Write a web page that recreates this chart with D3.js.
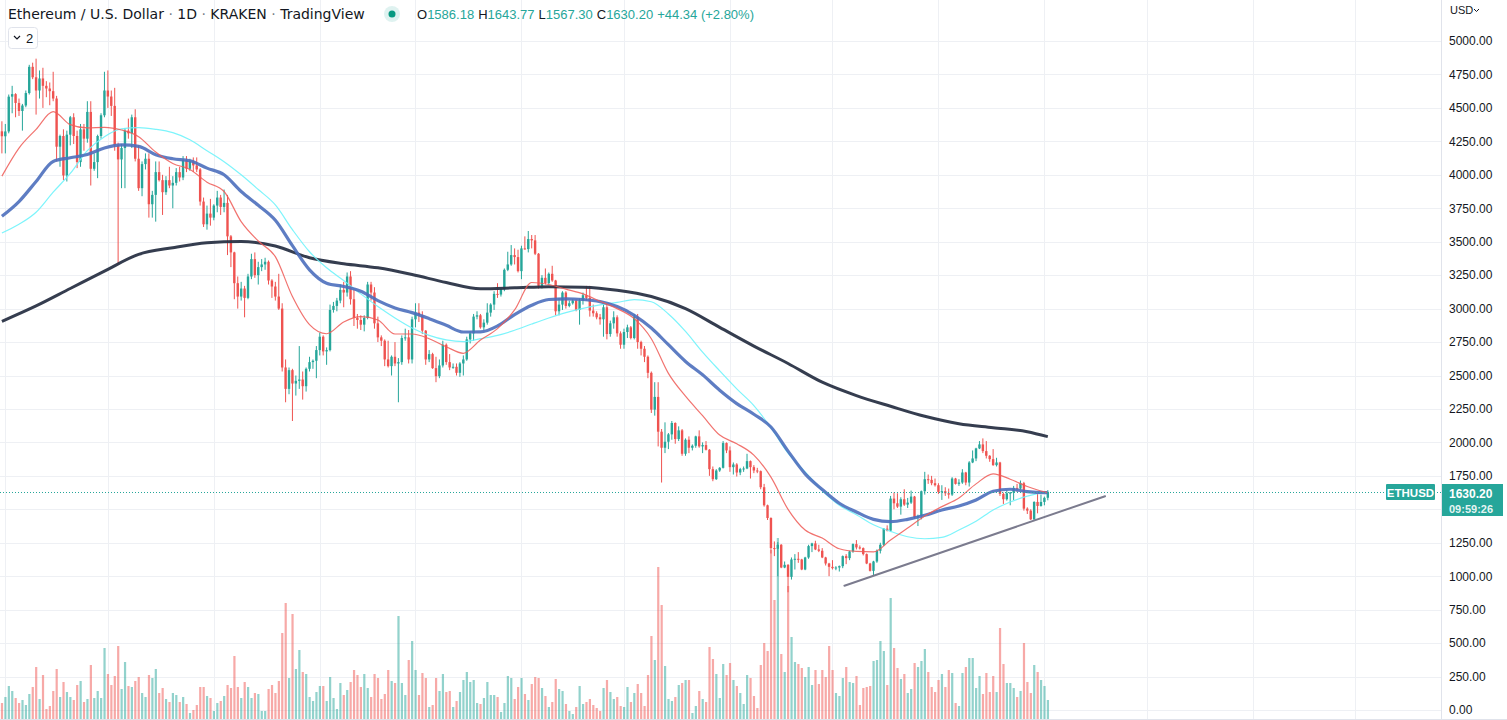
<!DOCTYPE html>
<html lang="en">
<head>
<meta charset="UTF-8">
<title>Ethereum / U.S. Dollar · 1D · KRAKEN</title>
<script src="https://cdn.jsdelivr.net/npm/d3@7/dist/d3.min.js"></script>
<style>
  html, body { margin: 0; padding: 0; background: #ffffff; }
  body { width: 1507px; height: 720px; overflow: hidden; }
  #chart text { font-family: "Liberation Sans", Arial, sans-serif; fill: #131722; }
</style>
</head>
<body>
<div id="chart"></div>
<script>
// daily bars, first bar = 2021-10-31
var firstDay = "2021-10-31";

var opens = [4325,4288,4324,4584,4603,4537,4477,4518,4611,4807,4729,4630,4720,4665,4645,4625,4570,4210,4290,3995,
4300,4430,4290,4095,4340,4270,4470,4045,4095,4290,4445,4630,4585,4515,4220,4115,4200,4330,4310,4430,
4120,3900,4080,4120,3780,3850,4020,3960,3870,3960,3920,3940,4020,3980,4110,4045,4100,4070,4040,3800,
3630,3710,3680,3770,3830,3760,3790,3540,3420,3190,3090,3150,3080,3240,3370,3250,3310,3330,3350,3210,
3165,3090,3000,2560,2400,2540,2440,2460,2470,2420,2550,2600,2610,2690,2790,2680,2690,2990,3020,3060,
3140,3120,3240,3070,2930,2915,2880,2930,3180,3120,2890,2785,2760,2620,2570,2640,2590,2600,2780,2785,
2620,2920,2970,2950,2835,2620,2660,2555,2495,2575,2730,2600,2560,2565,2520,2590,2620,2770,2815,2940,
2950,2860,2895,2970,3030,3110,3105,3145,3290,3330,3400,3385,3280,3450,3445,3520,3510,3410,3170,3230,
3190,3260,3210,2980,3030,3120,3020,3040,3060,2990,3060,3100,3080,2985,2965,2935,2920,3010,2810,2890,
2935,2815,2730,2825,2860,2780,2940,2750,2700,2640,2520,2245,2340,2080,1960,2005,2060,2145,2025,2090,
1915,2020,1960,1975,2045,1970,1980,1945,1800,1725,1790,1810,1995,1940,1815,1835,1775,1800,1805,1860,
1815,1790,1785,1665,1530,1435,1210,1205,1235,1065,1085,995,1125,1130,1125,1050,1140,1225,1245,1200,
1190,1140,1095,1070,1060,1065,1075,1150,1135,1185,1240,1215,1210,1165,1095,1040,1110,1190,1235,1355,
1340,1580,1545,1520,1575,1535,1550,1595,1440,1450,1635,1725,1720,1695,1680,1630,1635,1620,1610,1730,
1690,1700,1775,1700,1850,1880,1955,1985,1935,1900,1875,1830,1850,1615,1575,1620,1625,1660,1655,1695,
1505,1490,1425,1555,1525,1555,1586.18];

var highs = [4400,4380,4600,4665,4610,4570,4530,4630,4822,4838,4868,4780,4800,4700,4690,4770,4590,4300,4340,4330,
4440,4460,4330,4380,4380,4550,4550,4160,4300,4460,4770,4780,4630,4650,4240,4230,4350,4420,4450,4490,
4220,4100,4160,4160,3880,4100,4100,4000,3990,4060,3990,4050,4060,4140,4140,4120,4130,4130,4050,3830,
3770,3820,3780,3880,3850,3890,3850,3550,3425,3240,3200,3170,3260,3410,3420,3350,3370,3380,3360,3220,
3200,3260,3040,2620,2560,2550,2500,2720,2530,2560,2640,2620,2720,2820,2800,2710,3030,3050,3080,3180,
3200,3270,3280,3150,2960,2950,2950,3200,3200,3160,2940,2800,2770,2760,2650,2750,2630,2800,2850,2840,
2940,3040,3040,2980,2840,2690,2670,2640,2620,2760,2740,2660,2590,2590,2600,2650,2790,2830,2960,2980,
2960,2920,3040,3040,3130,3190,3150,3300,3425,3475,3450,3440,3470,3540,3580,3550,3550,3415,3250,3300,
3270,3320,3215,3080,3130,3130,3060,3070,3070,3075,3120,3170,3170,3030,2980,2960,3030,3040,2910,2980,
2950,2830,2850,2880,2870,2960,2960,2760,2720,2650,2530,2450,2450,2100,2150,2070,2160,2150,2120,2100,
2030,2045,1985,2050,2090,2000,2010,1950,1820,1800,1815,2010,2000,1970,1850,1845,1810,1820,1915,1865,
1830,1810,1790,1690,1535,1440,1260,1255,1240,1110,1090,1140,1165,1180,1130,1145,1235,1250,1265,1235,
1210,1145,1100,1120,1075,1080,1155,1165,1190,1245,1270,1230,1215,1170,1100,1115,1200,1250,1360,1380,
1600,1625,1620,1590,1650,1585,1640,1600,1460,1640,1780,1760,1750,1730,1695,1680,1665,1655,1740,1735,
1725,1800,1780,1860,1940,1960,2010,2030,2010,1905,1950,1885,1855,1625,1640,1630,1675,1690,1715,1705,
1515,1500,1560,1615,1610,1595,1643.77];

var lows = [4160,4160,4310,4460,4430,4440,4330,4505,4600,4715,4450,4570,4500,4580,4520,4550,4100,4060,3960,3950,
4220,4230,4050,4060,4180,4240,3920,4030,3975,4270,4430,4500,4440,4180,3330,3900,3900,4270,4200,4100,
3880,3840,4040,3680,3680,3650,3950,3700,3850,3900,3750,3920,3950,3960,4020,4030,4020,4020,3770,3610,
3590,3620,3660,3720,3700,3720,3400,3310,3070,3000,3060,2935,3070,3220,3230,3180,3280,3290,3180,3080,
3060,2990,2530,2300,2360,2160,2350,2400,2320,2380,2530,2550,2480,2650,2650,2580,2680,2970,2980,3040,
3010,3090,3030,2870,2850,2840,2830,2920,3060,2850,2750,2720,2570,2560,2500,2570,2300,2580,2760,2590,
2590,2860,2900,2810,2580,2600,2550,2450,2480,2560,2580,2540,2550,2500,2490,2500,2610,2740,2760,2920,
2850,2840,2880,2940,2990,3080,3090,3130,3280,3320,3330,3270,3220,3440,3420,3450,3400,3150,3150,3180,
3180,3200,2950,2950,2990,3000,3010,3030,2980,2880,3030,3060,2940,2940,2920,2880,2790,2770,2790,2850,
2790,2700,2700,2780,2770,2770,2700,2650,2600,2480,2220,2200,1970,1700,1920,1950,2020,1990,2010,1900,
1900,1920,1940,1960,1960,1920,1940,1750,1710,1720,1780,1805,1920,1780,1760,1745,1755,1780,1800,1730,
1770,1770,1650,1520,1420,1170,1150,1000,1060,1060,880,975,1050,1100,1045,1045,1130,1180,1195,1180,
1135,1080,1000,1050,1045,1035,1060,1090,1120,1175,1200,1200,1155,1090,1035,1005,1100,1170,1225,1335,
1335,1500,1510,1460,1525,1510,1540,1430,1375,1425,1610,1690,1680,1670,1615,1570,1600,1580,1600,1685,
1675,1690,1680,1670,1845,1860,1950,1920,1880,1855,1825,1820,1600,1540,1565,1530,1570,1630,1650,1490,
1465,1420,1420,1470,1520,1530,1567.30];

var closes = [4288,4324,4584,4603,4537,4477,4518,4611,4807,4729,4630,4720,4665,4645,4625,4570,4210,4290,3995,4300,
4430,4290,4095,4340,4270,4470,4045,4095,4290,4445,4630,4585,4515,4220,4115,4200,4330,4310,4430,4120,
3900,4080,4120,3780,3850,4020,3960,3870,3960,3920,3940,4020,3980,4110,4045,4100,4070,4040,3800,3630,
3710,3680,3770,3830,3760,3790,3540,3420,3190,3090,3150,3080,3240,3370,3250,3310,3330,3350,3210,3165,
3090,3000,2560,2400,2540,2440,2460,2470,2420,2550,2600,2610,2690,2790,2680,2690,2990,3020,3060,3140,
3120,3240,3070,2930,2915,2880,2930,3180,3120,2890,2785,2760,2620,2570,2640,2590,2600,2780,2785,2620,
2920,2970,2950,2835,2620,2660,2555,2495,2575,2730,2600,2560,2565,2520,2590,2620,2770,2815,2940,2950,
2860,2895,2970,3030,3110,3105,3145,3290,3330,3400,3385,3280,3450,3445,3520,3510,3410,3170,3230,3190,
3260,3210,2980,3030,3120,3020,3040,3060,2990,3060,3100,3080,2985,2965,2935,2920,3010,2810,2890,2935,
2815,2730,2825,2860,2780,2940,2750,2700,2640,2520,2245,2340,2080,1960,2005,2060,2145,2025,2090,1915,
2020,1960,1975,2045,1970,1980,1945,1800,1725,1790,1810,1995,1940,1815,1835,1775,1800,1805,1860,1815,
1790,1785,1665,1530,1435,1210,1205,1235,1065,1085,995,1125,1130,1125,1050,1140,1225,1245,1200,1190,
1140,1095,1070,1060,1065,1075,1150,1135,1185,1240,1215,1210,1165,1095,1040,1110,1190,1235,1355,1340,
1580,1545,1520,1575,1535,1550,1595,1440,1450,1635,1725,1720,1695,1680,1630,1635,1620,1610,1730,1690,
1700,1775,1700,1850,1880,1955,1985,1935,1900,1875,1830,1850,1615,1575,1620,1625,1660,1655,1695,1505,
1490,1425,1555,1525,1555,1585.86,1630.20];

// volume, thousand ETH
var volumes = [17,23,34,29,22,17,20,15,26,33,53,21,45,11,14,29,51,23,38,28,
23,20,35,39,18,21,55,22,29,22,72,46,35,44,74,31,58,34,33,39,
43,27,23,45,42,51,27,32,21,18,27,25,18,23,16,7,10,15,33,33,
24,22,9,17,19,24,35,32,64,33,22,38,33,22,27,26,9,9,31,35,
27,39,87,117,42,106,51,70,48,46,23,19,28,34,34,19,43,22,11,37,
25,30,38,50,45,33,46,32,23,46,42,21,26,50,39,37,104,37,25,60,
79,50,25,47,42,13,15,42,29,46,28,29,13,19,28,40,48,38,40,17,
16,22,38,25,25,23,8,17,44,42,21,33,42,26,20,36,43,42,32,24,
13,18,41,31,29,16,9,6,13,34,16,18,21,15,12,9,32,40,28,21,
23,14,13,33,18,27,36,27,14,45,84,60,153,115,54,21,19,23,35,37,
40,40,7,14,29,21,18,73,61,46,22,56,45,57,40,34,27,16,45,42,
24,12,55,77,69,170,120,182,66,48,134,83,58,56,52,43,53,35,50,36,
50,43,74,50,27,24,42,53,38,37,44,15,32,33,34,59,60,79,69,35,
122,72,52,41,46,27,31,57,53,59,71,48,33,28,40,46,33,50,47,17,
14,47,53,62,62,32,44,26,47,28,44,28,92,56,37,37,32,23,29,77,
38,27,55,48,40,34,20];

// moving averages, read every 5 bars (bar index in maIdx)
var maIdx  = [0,5,10,15,20,25,30,35,40,45,50,55,60,65,70,75,80,85,90,95,100,105,110,115,120,125,130,135,140,145,
150,155,160,165,170,175,180,185,190,195,200,205,210,215,220,225,230,235,240,245,250,255,260,265,270,275,280,285,290,295,300,305,306];
var maRed  = [3990,4200,4340,4472,4375,4350,4355,4335,4285,4170,4085,4040,3945,3875,3650,3505,3388,3090,2880,2812,2900,2940,2915,2810,2810,2775,2715,2666,2765,2850,
2990,3195,3180,3145,3110,3055,3000,2925,2775,2516,2345,2200,2055,1990,1905,1740,1500,1345,1285,1205,1185,1182,1270,1360,1450,1520,1585,1690,1765,1725,1670,1630,1625];
var maCyan = [3565,3630,3720,3870,4010,4180,4285,4343,4352,4340,4315,4262,4180,4098,4000,3890,3775,3590,3425,3305,3210,3110,3015,2930,2855,2800,2766,2753,2775,2800,
2838,2885,2930,2970,3002,3028,3046,3067,3051,2960,2830,2675,2535,2400,2275,2110,1920,1780,1640,1530,1460,1385,1335,1295,1280,1290,1345,1410,1495,1555,1598,1628,1632];
var maBlue = [3690,3800,3950,4100,4127,4152,4200,4223,4212,4150,4120,4105,4050,4000,3875,3772,3660,3470,3290,3190,3165,3130,3060,3005,2970,2925,2875,2825,2826,2870,
2955,3025,3068,3073,3068,3052,3015,2950,2855,2730,2605,2505,2390,2290,2210,2115,1935,1765,1648,1545,1480,1425,1408,1425,1455,1495,1525,1570,1635,1650,1632,1625,1625];
// 200-day average, read every 10 bars
var longIdx = [0,10,20,30,40,50,60,70,80,90,100,110,120,130,140,150,160,170,180,190,200,210,220,230,240,250,260,270,280,290,300,306];
var ma200   = [2905,3020,3150,3280,3405,3455,3492,3502,3468,3380,3335,3305,3255,3195,3148,3155,3164,3160,3137,3090,3000,2860,2720,2590,2450,2350,2270,2195,2140,2110,2080,2043];

// support line drawn on the chart
var trendDates  = ["2022-07-04T12:00Z", "2022-09-18T18:00Z"];
var trendPrices = [929, 1598];

var priceTicks = [0,250,500,750,1000,1250,1500,1750,2000,2250,2500,2750,3000,3250,3500,3750,4000,4250,4500,4750,5000];
var lastPrice = 1630.20;
var countdown = "09:59:26";

// ------------------------------------------------------------
var W = 1507, H = 720, plotRight = 1441;
var up = "#26a69a", down = "#ef5350";
var n = opens.length;

var svg = d3.select("#chart").append("svg").attr("width", W).attr("height", H);

var t0 = new Date(firstDay + "T00:00:00Z");
var dates = opens.map(function(d, i) { return d3.utcDay.offset(t0, i); });

var x = d3.scaleUtc()
  .domain([t0, d3.utcDay.offset(t0, 421)])
  .range([1.9, 1.9 + 421 * 3.418]);
var y = d3.scaleLinear().domain([0, 5000]).range([710, 41]);
var yVol = d3.scaleLinear().domain([0, 200]).range([720, 520]);

// grid
var grid = svg.append("g").attr("stroke", "#eef0f4").attr("stroke-width", 1);
grid.selectAll(".gy").data(priceTicks).join("line")
  .attr("x1", 0).attr("x2", plotRight)
  .attr("y1", function(d) { return Math.round(y(d)) + 0.5; })
  .attr("y2", function(d) { return Math.round(y(d)) + 0.5; });
grid.selectAll(".gx").data(d3.utcMonth.range(d3.utcMonth.ceil(t0), x.domain()[1])).join("line")
  .attr("x1", function(d) { return Math.round(x(d)) + 0.5; })
  .attr("x2", function(d) { return Math.round(x(d)) + 0.5; })
  .attr("y1", 0).attr("y2", 719);

var g = svg.append("g");

// volume
g.append("g").selectAll("rect").data(volumes).join("rect")
  .attr("x", function(d, i) { return x(dates[i]) - 1; })
  .attr("width", 2.2)
  .attr("y", function(d) { return yVol(d); })
  .attr("height", function(d) { return yVol(0) - yVol(d); })
  .attr("fill", function(d, i) { return closes[i] >= opens[i] ? up : down; })
  .attr("fill-opacity", 0.5);

// candles
var idx = d3.range(n);
var cg = g.append("g");
cg.selectAll(".wick").data(idx).join("rect")
  .attr("x", function(i) { return x(dates[i]) - 0.5; })
  .attr("width", 1)
  .attr("y", function(i) { return y(highs[i]); })
  .attr("height", function(i) { return y(lows[i]) - y(highs[i]); })
  .attr("fill", function(i) { return closes[i] >= opens[i] ? up : down; });
cg.selectAll(".body").data(idx).join("rect")
  .attr("x", function(i) { return x(dates[i]) - 1.2; })
  .attr("width", 2.4)
  .attr("y", function(i) { return y(Math.max(opens[i], closes[i])); })
  .attr("height", function(i) { return Math.max(1, Math.abs(y(opens[i]) - y(closes[i]))); })
  .attr("fill", function(i) { return closes[i] >= opens[i] ? up : down; });

// moving averages
function maLine(at, vals, color, width, op) {
  var line = d3.line()
    .x(function(d, k) { return x(dates[at[k]]); })
    .y(function(d) { return y(d); })
    .curve(d3.curveMonotoneX);
  g.append("path").datum(vals)
    .attr("d", line)
    .attr("fill", "none")
    .attr("stroke", color)
    .attr("stroke-width", width)
    .attr("stroke-opacity", op)
    .attr("stroke-linejoin", "round");
}
maLine(longIdx, ma200, "#2a3346", 3, 0.95);
maLine(maIdx, maCyan, "#6ff3fb", 1.2, 0.9);
maLine(maIdx, maBlue, "#4d6fbd", 3.2, 0.9);
maLine(maIdx, maRed, "#ee5a56", 1.2, 0.85);

// trend line
g.append("line")
  .attr("x1", x(new Date(trendDates[0]))).attr("y1", y(trendPrices[0]))
  .attr("x2", x(new Date(trendDates[1]))).attr("y2", y(trendPrices[1]))
  .attr("stroke", "#7b7b8e").attr("stroke-width", 2).attr("stroke-linecap", "round");

// last price dotted line
var yl = Math.round(y(lastPrice)) + 0.5;
svg.append("line")
  .attr("x1", 0).attr("x2", plotRight).attr("y1", yl).attr("y2", yl)
  .attr("stroke", up).attr("stroke-width", 1).attr("stroke-dasharray", "1,2");

// price axis
svg.append("rect").attr("x", plotRight).attr("y", 0).attr("width", W - plotRight).attr("height", H).attr("fill", "#fff");
svg.append("line").attr("x1", plotRight + 0.5).attr("x2", plotRight + 0.5).attr("y1", 0).attr("y2", H)
  .attr("stroke", "#e0e3eb");
svg.append("line").attr("x1", 0).attr("x2", W).attr("y1", 719.5).attr("y2", 719.5)
  .attr("stroke", "#e0e3eb");

var axis = svg.append("g")
  .attr("transform", "translate(" + plotRight + ",0)")
  .call(d3.axisRight(y).tickValues(priceTicks).tickFormat(d3.format(".2f")).tickSize(0).tickPadding(8));
axis.select(".domain").remove();
axis.selectAll("text").attr("font-size", 12).style("fill", "#131722")
  .style("font-family", "'Liberation Sans', Arial, sans-serif");

svg.append("text").attr("x", 1450).attr("y", 14).attr("font-size", 11).text("USD");
svg.append("path").attr("d", "M1474,9 l2.5,2.5 l2.5,-2.5").attr("fill", "none").attr("stroke", "#131722").attr("stroke-width", 1);

// last price labels
svg.append("rect").attr("x", 1386).attr("y", yl - 8.5).attr("width", 49).attr("height", 16).attr("rx", 1).attr("fill", up);
svg.append("text").attr("x", 1410.5).attr("y", yl + 4).attr("text-anchor", "middle")
  .attr("font-size", 11.5).attr("font-weight", "bold").style("fill", "#fff").text("ETHUSD");
svg.append("rect").attr("x", plotRight + 1).attr("y", yl - 8.5).attr("width", 61).attr("height", 32).attr("fill", up);
svg.append("text").attr("x", 1449).attr("y", yl + 5).attr("font-size", 12).attr("font-weight", "bold")
  .style("fill", "#fff").text(d3.format(".2f")(lastPrice));
svg.append("text").attr("x", 1449).attr("y", yl + 20).attr("font-size", 11).attr("font-weight", "bold")
  .style("fill", "#fff").style("fill-opacity", 0.9).text(countdown);

// legend header
var hdr = svg.append("text").attr("x", 8).attr("y", 19).attr("font-size", 14)
  .style("font-family", "'DejaVu Sans', sans-serif");
hdr.append("tspan").text("Ethereum / U.S. Dollar ");
hdr.append("tspan").style("fill", "#787b86").text("·");
hdr.append("tspan").text(" 1D ");
hdr.append("tspan").style("fill", "#787b86").text("·");
hdr.append("tspan").text(" KRAKEN ");
hdr.append("tspan").style("fill", "#787b86").text("·");
hdr.append("tspan").text(" TradingView");

svg.append("circle").attr("cx", 392).attr("cy", 14).attr("r", 8).attr("fill", up).attr("fill-opacity", 0.15);
svg.append("circle").attr("cx", 392).attr("cy", 14).attr("r", 3.5).attr("fill", "#089981");

var ohlc = [["O", opens[n - 1]], ["H", highs[n - 1]], ["L", lows[n - 1]], ["C", lastPrice]];
var chg = lastPrice - closes[n - 2];
var leg = svg.append("text").attr("x", 417).attr("y", 19).attr("font-size", 13);
ohlc.forEach(function(p, k) {
  leg.append("tspan").attr("dx", k ? 4 : 0).style("fill", "#131722").text(p[0]);
  leg.append("tspan").style("fill", up).text(d3.format(".2f")(p[1]));
});
leg.append("tspan").attr("dx", 4).style("fill", up)
  .text("+" + d3.format(".2f")(chg) + " (+" + d3.format(".2f")(chg / closes[n - 2] * 100) + "%)");

// collapse button
svg.append("rect").attr("x", 8.5).attr("y", 27.5).attr("width", 29).attr("height", 21).attr("rx", 3)
  .attr("fill", "#fff").attr("stroke", "#e0e3eb");
svg.append("path").attr("d", "M14,36 l3,3 l3,-3").attr("fill", "none").attr("stroke", "#131722").attr("stroke-width", 1.2);
svg.append("text").attr("x", 26).attr("y", 43).attr("font-size", 13).text("2");
</script>
</body>
</html>
